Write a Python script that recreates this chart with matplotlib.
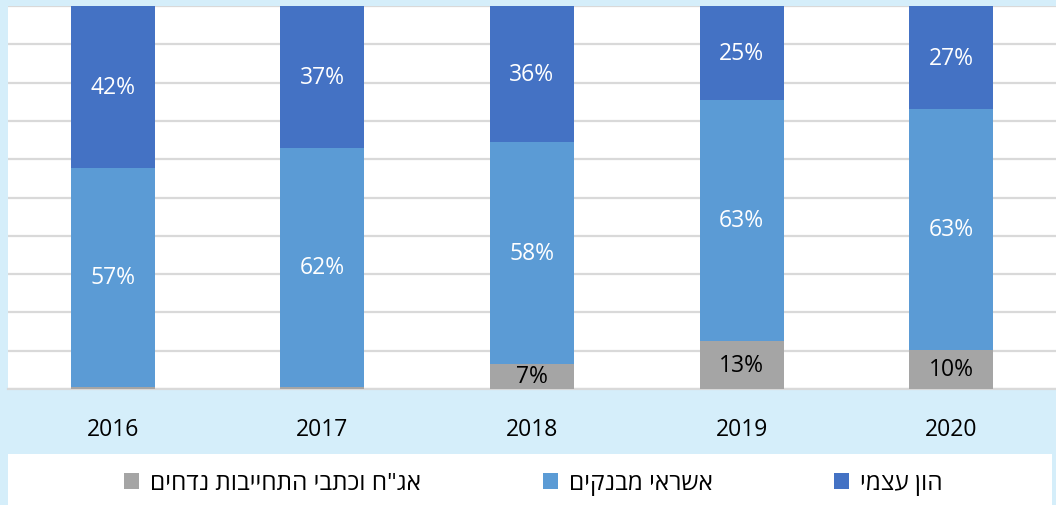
import matplotlib.pyplot as plt
from matplotlib.patches import Rectangle

# Data (share of total, %)
years = ["2016", "2017", "2018", "2019", "2020"]
bonds = [0.5, 0.6, 6.6, 12.6, 10.2]
bank_credit = [57.3, 62.4, 57.8, 62.8, 62.9]
equity = [42.2, 37.0, 35.6, 24.6, 26.9]

series_names = ['אג"ח וכתבי התחייבות נדחים', "אשראי מבנקים", "הון עצמי"]
colors = ["#A5A5A5", "#5B9BD5", "#4472C4"]
label_colors = ["black", "white", "white"]

BG = "#D5EEFA"
FONT = ["Open Sans", "DejaVu Sans"]


def rtl(s):
    # matplotlib has no bidi support, so reverse Hebrew for display
    return s[::-1]


plt.rcParams["font.family"] = FONT

fig = plt.figure(figsize=(10.56, 5.06), dpi=100, facecolor=BG)
ax = fig.add_axes([8 / 1056, 1 - 390 / 506, 1 - 8 / 1056, 383 / 506])
ax.set_facecolor("white")

# white box behind the legend
fig.patches.append(Rectangle((8 / 1056, 0), 1044 / 1056, 51 / 506,
                             transform=fig.transFigure, facecolor="white",
                             edgecolor="none", zorder=0))

x = list(range(len(years)))
bottom = [0.0] * len(years)
handles = []
for vals, name, col, lcol in zip([bonds, bank_credit, equity], series_names,
                                 colors, label_colors):
    bars = ax.bar(x, vals, 0.4, bottom=bottom, color=col, zorder=3,
                  label=rtl(name))
    handles.append(bars)
    for xi, b, v in zip(x, bottom, vals):
        if v >= 3:
            ax.text(xi, b + v / 2, f"{v:.0f}%", ha="center", va="center",
                    color=lcol, fontsize=16.5, zorder=4)
    bottom = [b + v for b, v in zip(bottom, vals)]

ax.set_xlim(-0.5, 4.5)
ax.set_ylim(0, 100)
ax.set_yticks(range(0, 101, 10))
ax.yaxis.grid(True, color="#D9D9D9", linewidth=1.6, zorder=0)
ax.tick_params(axis="y", left=False, labelleft=False)
ax.tick_params(axis="x", bottom=False, pad=17, labelsize=16.5)
ax.set_xticks(x)
ax.set_xticklabels(years)
for side in ["left", "right", "top"]:
    ax.spines[side].set_visible(False)
ax.spines["bottom"].set_color("#D9D9D9")
ax.spines["bottom"].set_linewidth(1.6)

fig.legend(handles=handles, loc="center", bbox_to_anchor=(0.505, 0.043),
           ncol=3, frameon=False, fontsize=17.5, handlelength=0.62,
           handleheight=0.62, handletextpad=0.45, columnspacing=5.0)

fig.savefig("out.png", dpi=100, facecolor=BG)
